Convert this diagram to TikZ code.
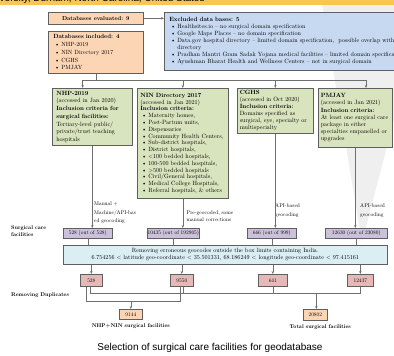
\documentclass[tikz,border=0pt]{standalone}
\usepackage{fontspec}
\setmainfont{lmroman10}[Extension=.otf, UprightFont=*-regular, BoldFont=*-bold, ItalicFont=*-italic, BoldItalicFont=*-bolditalic]
\newfontfamily\capfont{Liberation Sans}
\usetikzlibrary{positioning,arrows.meta}
\definecolor{peachc}{HTML}{FCD5B5}
\definecolor{exclc}{HTML}{C6D9F1}
\definecolor{greenc}{HTML}{D7E4BD}
\definecolor{purplec}{HTML}{CCC1DA}
\definecolor{cyanc}{HTML}{DAEEF3}
\definecolor{pinkc}{HTML}{E6B9B8}
\definecolor{bandc}{HTML}{F8C752}
\definecolor{boxline}{HTML}{5F5F5F}
\definecolor{wirec}{HTML}{6F6F6F}
\definecolor{markc}{HTML}{EFEFEF}
\newcommand{\smallfont}{\fontsize{5.4}{7.2}\selectfont}
\newcommand{\bul}{\hspace*{1.5pt}\makebox[6.5pt][l]{\textbullet}}
\tikzset{
  box/.style={draw=boxline, line width=0.6pt, font=\smallfont, inner sep=0pt},
  tbox/.style={box, anchor=north west, align=left, inner xsep=3pt, inner ysep=1pt},
  nbox/.style={box, anchor=north west, align=center},
  wire/.style={draw=wirec, line width=0.6pt},
  arr/.style={wire, -{Stealth[length=3pt,width=2.4pt]}},
  side/.style={font=\smallfont\bfseries, anchor=west, align=left, inner sep=0pt},
  note/.style={font=\smallfont, anchor=west, align=left, inner sep=0pt}
}
\begin{document}
\begin{tikzpicture}[x=1pt,y=-1pt]
  \useasboundingbox (0,0) rectangle (394,356);
  \clip (0,0) rectangle (394,356);
  \fill[markc] (322,4) -- (394,4) -- (394,120) -- (362,242) -- cycle;
  \fill[bandc] (0,0) rectangle (394,4.5);
  \node[anchor=base west, inner sep=0, font=\capfont\fontsize{10}{12}\selectfont] (hdr) at (-0.5,1.4) {versity, Durham, North Carolina, United States};

  \node[nbox, fill=peachc, minimum width=95pt, minimum height=12pt, font=\fontsize{5.8}{7}\selectfont\bfseries] (evald) at (48,12) {Databases evaluated: 9};
  \node[tbox, fill=peachc, inner xsep=5pt, text width=85pt, minimum height=42pt, font=\fontsize{6}{7.7}\selectfont] (incl) at (48,31)
    {\textbf{Databases included: 4}\\ \bul NHP-2019\\ \bul NIN Directory 2017\\ \bul CGHS\\ \bul PMJAY};
  \node[tbox, fill=exclc, inner xsep=5pt, text width=300pt, minimum height=58pt, font=\fontsize{6.1}{7}\selectfont] (excl) at (164,12)
    {\textbf{Excluded data bases: 5}\\
     \bul Healthsites.io -- no surgical domain specification\\
     \bul Google Maps Places -- no domain specification\\
     \bul Data.gov hospital directory -- limited domain specification,\ \ possible overlap with NIN\\
     \hspace*{8pt}directory\\
     \bul Pradhan Mantri Gram Sadak Yojana medical facilities -- limited domain specification\\
     \bul Ayushman Bharat Health and Wellness Centers -- not in surgical domain};

  \node[tbox, fill=greenc, inner xsep=4pt, text width=72pt, minimum height=57pt, font=\fontsize{6.1}{7.7}\selectfont] (nhp) at (52,88)
    {\textbf{NHP-2019}\\(accessed in Jan 2020)\\\textbf{Inclusion criteria for}\\\textbf{surgical facilities:}\\Tertiary-level public/\\private/trust teaching\\hospitals};
  \node[tbox, fill=greenc, text width=85pt, minimum height=110pt, font=\fontsize{6.1}{6.8}\selectfont] (nin) at (137,88)
    {\textbf{NIN Directory 2017}\\(accessed in Jan 2021)\\\textbf{Inclusion criteria:}\\
     \bul Maternity homes,\\ \bul Post-Partum units,\\ \bul Dispensaries\\ \bul Community Health Centers,\\
     \bul Sub-district hospitals,\\ \bul District hospitals,\\ \bul <100 bedded hospitals,\\
     \bul 100-500 bedded hospitals,\\ \bul >500 bedded hospitals\\ \bul Civil/General hospitals,\\
     \bul Medical College Hospitals,\\ \bul Referral hospitals, \& others};
  \node[tbox, fill=greenc, inner xsep=2.5pt, text width=71pt, minimum height=45pt, font=\fontsize{6.1}{7}\selectfont] (cghs) at (237,88)
    {\textbf{CGHS}\\(accessed in Oct 2020)\\\textbf{Inclusion criteria:}\\Domains specified as\\surgical, eye, specialty or\\multispecialty};
  \node[tbox, fill=greenc, inner xsep=2.5pt, text width=69pt, minimum height=59pt, font=\fontsize{6.1}{7.2}\selectfont] (pmjay) at (318,88)
    {\textbf{PMJAY}\\(accessed in Jan 2021)\\\textbf{Inclusion criteria:}\\At least one surgical care\\package in either\\specialties empanelled or\\upgrades};

  \node[nbox, fill=purplec, minimum width=49pt, minimum height=9.5pt] (p1) at (63,228) {528 (out of 528)};
  \node[nbox, fill=purplec, minimum width=52pt, minimum height=9.5pt] (p2) at (147,228) {10435 (out of 192905)};
  \node[nbox, fill=purplec, minimum width=49pt, minimum height=9.5pt] (p3) at (247,228) {666 (out of 999)};
  \node[nbox, fill=purplec, minimum width=62pt, minimum height=9.5pt] (p4) at (325,228) {12630 (out of 23080)};

  \node[nbox, fill=cyanc, minimum width=324pt, minimum height=19pt, font=\fontsize{6.1}{7}\selectfont] (geo) at (63,245)
    {Removing erroneous geocodes outside the box limits containing India.\\
     6.754256 < latitude geo-coordinate < 35.501331, 68.186249 < longitude geo-coordinate < 97.415161};

  \node[nbox, fill=pinkc, minimum width=22pt, minimum height=12pt] (r1) at (80,274) {528};
  \node[nbox, fill=pinkc, minimum width=23pt, minimum height=12pt] (r2) at (170,274) {9550};
  \node[nbox, fill=pinkc, minimum width=29pt, minimum height=12pt] (r3) at (258,274) {641};
  \node[nbox, fill=pinkc, minimum width=26pt, minimum height=12pt] (r4) at (347,274) {12437};

  \node[nbox, fill=peachc, minimum width=23pt, minimum height=10pt] (nn) at (119,309) {9144};
  \node[nbox, fill=peachc, minimum width=24pt, minimum height=11pt] (tot) at (303,309) {20802};
  \node[font=\smallfont\bfseries, inner sep=0pt, below=4pt of nn] (nnlbl) {NHP+NIN surgical facilities};
  \node[font=\smallfont\bfseries, inner sep=0pt, below=3.5pt of tot, xshift=5pt] (totlbl) {Total surgical facilities};

  \node[side] (sclbl) at (11,231) {Surgical care\\facilities};
  \node[side] (duplbl) at (11,295) {Removing Duplicates};
  \node[note, font=\fontsize{5.4}{8.3}\selectfont] (nhpnote) at (94,212.7) {Manual +\\Machine/API-bas\\ed geocoding};
  \node[note, font=\fontsize{5.4}{6.6}\selectfont] (ninnote) at (186.5,216) {Pre-geocoded, some\\manual corrections};
  \node[note, font=\fontsize{5.4}{8.5}\selectfont] (cghsnote) at (275,210.5) {API-based\\geocoding};
  \node[note, font=\fontsize{5.4}{8.5}\selectfont] (pmjaynote) at (360,210.5) {API-based\\geocoding};

  \coordinate (busL) at (82.7,80);
  \coordinate (busR) at (366,80);
  \draw[arr] (evald) -- (excl.west |- evald);
  \draw[wire] (incl.south) -- (incl.south |- busL);
  \draw[wire] (busL) -- (busR);
  \draw[arr] (busL) -- (busL |- nhp.north);
  \draw[arr] (nin.north |- busL) -- (nin.north);
  \draw[arr] (cghs.north |- busL) -- (cghs.north);
  \draw[arr] (busR) -- (busR |- pmjay.north);

  \draw[arr] (nhp.south) -- (nhp.south |- p1.north);
  \draw[arr] (nin.south) -- (nin.south |- p2.north);
  \draw[arr] (cghs.south) -- (cghs.south |- p3.north);
  \draw[arr] (pmjay.south) -- (pmjay.south |- p4.north);
  \foreach \p in {p1,p2,p3,p4}
    \draw[wire] (\p.south) -- (\p.south |- geo.north);

  \draw[arr] (geo.south -| r1) -- (r1.north);
  \draw[arr] (geo.south -| r2) -- (r2.north);
  \draw[arr] (geo.south -| r3) -- (r3.north);
  \draw[arr] (geo.south -| r4) -- (r4.north);

  \draw[wire] ([xshift=-5pt]r1.south) -- ++(0,15) -| ([xshift=-1.5pt]r2.south);
  \draw[wire] ([xshift=-1pt]r1.south) -- ++(0,7) -| (r4.south);
  \draw[wire] ([xshift=1.5pt]r2.south) -- ++(0,7);
  \draw[wire] (r3.south) -- ++(0,7);
  \draw[arr] (nn.north) ++(0,-8) -- (nn.north);
  \draw[arr] ([xshift=1pt]tot.north) ++(0,-16) -- ([xshift=1pt]tot.north);

  \node[font=\capfont\fontsize{10}{12}\selectfont, inner sep=0pt] (cap) at (210,348) {Selection of surgical care facilities for geodatabase};
\end{tikzpicture}
\end{document}
